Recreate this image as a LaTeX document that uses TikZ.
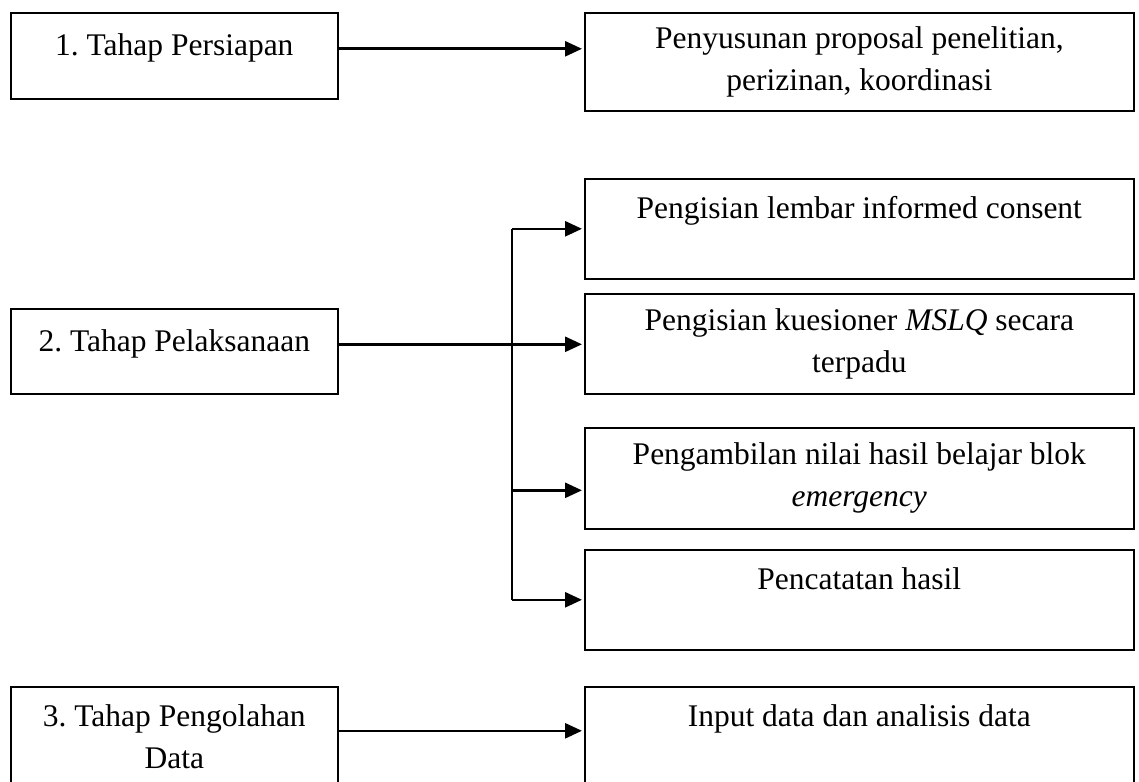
\documentclass[tikz,border=0pt]{standalone}
\usepackage{fontspec}
\setmainfont{Liberation Serif}
\frenchspacing
\usetikzlibrary{arrows.meta}
\begin{document}
\begin{tikzpicture}[x=1pt, y=-1pt, every node/.style={draw, line width=1.6pt, anchor=north west, align=center, inner sep=0pt, font=\fontsize{31.5}{42}\selectfont}, lft/.style={minimum width=327pt}, rgt/.style={minimum width=549pt}, arr/.style={line width=2.6pt, -{Triangle[length=17pt, width=15pt]}, shorten >=2pt}]
	\useasboundingbox (0,0) rectangle (1139,781);
	% left column
	\node[lft, minimum height=86pt] (s1) at (10,12) {1. Tahap Persiapan\\[-20pt] \mbox{}};
	\node[lft, minimum height=85pt] (s2) at (10,308) {2. Tahap Pelaksanaan\\[-20pt] \mbox{}};
	\node[lft, minimum height=100pt] (s3) at (10,686) {3. Tahap Pengolahan\\Data};
	% right column
	\node[rgt, minimum height=98pt] (k1) at (584,12) {Penyusunan proposal penelitian,\\perizinan, koordinasi};
	\node[rgt, minimum height=100pt] (k2) at (584,178) {Pengisian lembar informed consent\\ \mbox{}};
	\node[rgt, minimum height=100pt] (k3) at (584,293) {Pengisian kuesioner \textit{MSLQ} secara\\terpadu};
	\node[rgt, minimum height=101pt] (k4) at (584,427) {Pengambilan nilai hasil belajar blok\\\textit{emergency}};
	\node[rgt, minimum height=100pt] (k5) at (584,549) {Pencatatan hasil\\ \mbox{}};
	\node[rgt, minimum height=100pt] (k6) at (584,686) {Input data dan analisis data\\ \mbox{}};
	% connectors
	\coordinate (j1) at ([yshift=7pt]s1.east);
	\coordinate (j2) at ([yshift=7pt]s2.east);
	\coordinate (j3) at ([yshift=6pt]s3.east);
	\coordinate (j4) at ([yshift=-12pt]k4.west);
	\coordinate (tr) at (512,0);
	\draw[arr] (j1) -- (j1 -| k1.west);
	\draw[arr] (j2) -- (j2 -| k3.west);
	\draw[arr] (j3) -- (j3 -| k6.west);
	\draw[line width=2.6pt] (tr |- k2.west) -- (tr |- k5.west);
	\draw[arr] (tr |- k2.west) -- (k2.west);
	\draw[arr] (tr |- j4) -- (j4);
	\draw[arr] (tr |- k5.west) -- (k5.west);
\end{tikzpicture}
\end{document}
